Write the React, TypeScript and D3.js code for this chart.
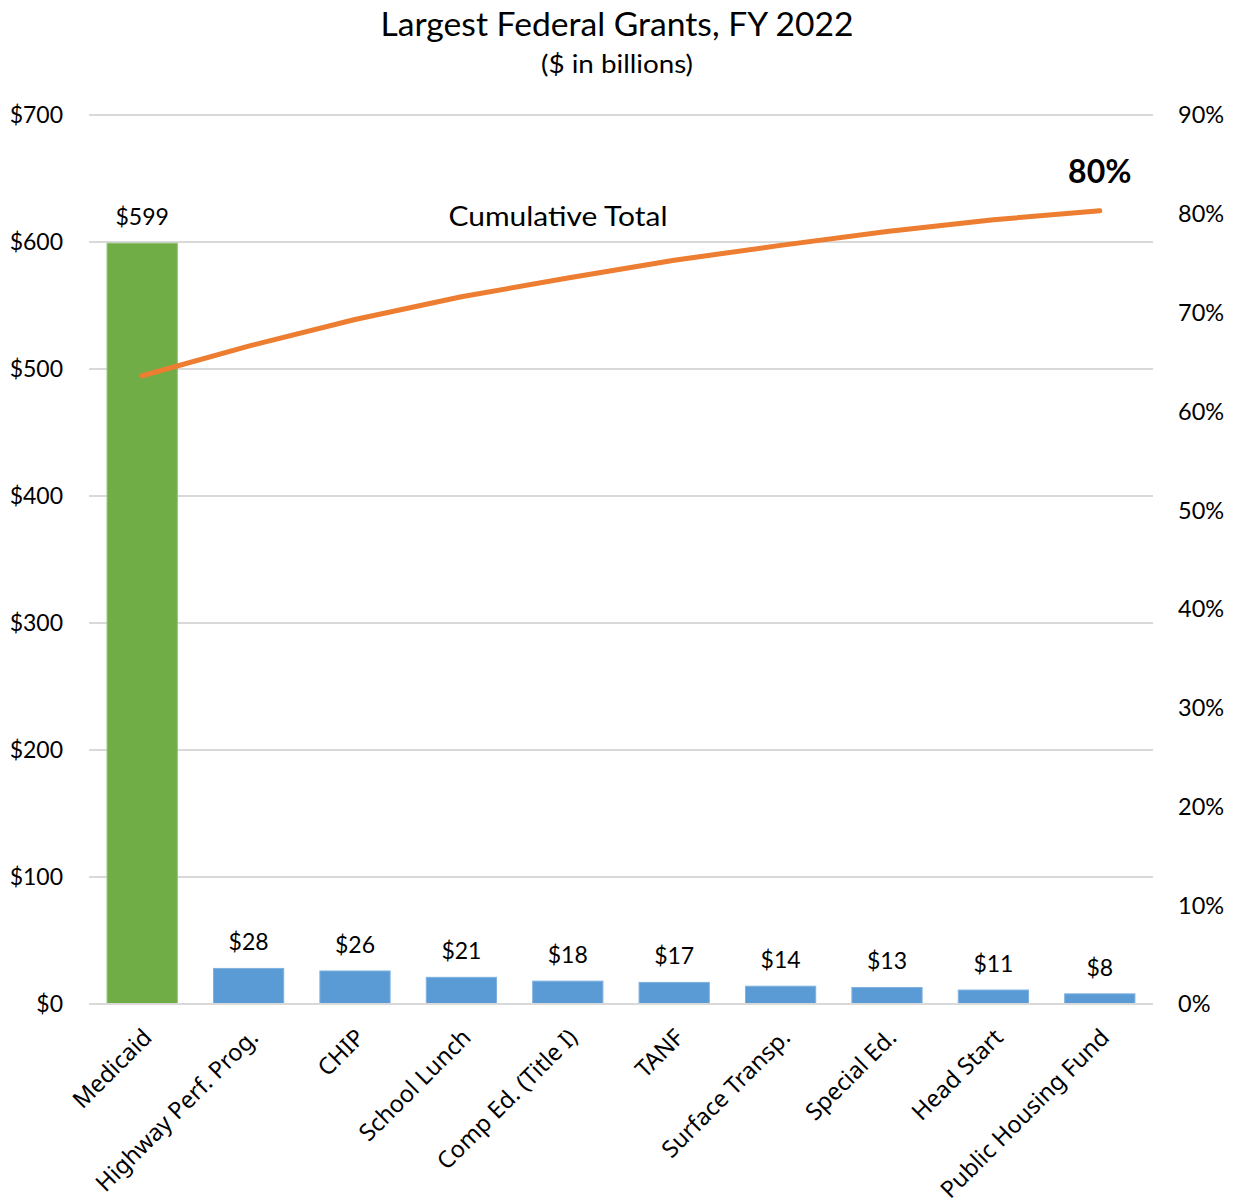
import React from "react";
import * as d3 from "d3";

const categories = [
  "Medicaid",
  "Highway Perf. Prog.",
  "CHIP",
  "School Lunch",
  "Comp Ed. (Title I)",
  "TANF",
  "Surface Transp.",
  "Special Ed.",
  "Head Start",
  "Public Housing Fund",
];
const grantValues = [599, 28, 26, 21, 18, 17, 14, 13, 11, 8];
const cumulativePct = [63.6, 66.6, 69.3, 71.6, 73.5, 75.3, 76.8, 78.2, 79.4, 80.3];
const leftTicks = [0, 100, 200, 300, 400, 500, 600, 700];
const rightTicks = [0, 10, 20, 30, 40, 50, 60, 70, 80, 90];

const W = 1238;
const H = 1203;
const M = { left: 89, right: 85, top: 115, bottom: 199 };
const CAL = "Lato, 'Open Sans', sans-serif";
const SEG = "'Noto Sans', 'Open Sans', sans-serif";

export default function App() {
  const x = d3
    .scaleBand<string>()
    .domain(categories)
    .range([M.left, W - M.right])
    .paddingInner(0.34)
    .paddingOuter(0.17);
  const y = d3.scaleLinear().domain([0, 700]).range([H - M.bottom, M.top]);
  const y2 = d3.scaleLinear().domain([0, 90]).range([H - M.bottom, M.top]);
  const cx = (c: string) => (x(c) as number) + x.bandwidth() / 2;

  const line = d3
    .line<number>()
    .x((_, i) => cx(categories[i]))
    .y((d) => y2(d));

  const lastIdx = categories.length - 1;

  return (
    <svg
      width={W}
      height={H}
      style={{ position: "absolute", left: 0, top: 0, display: "block", background: "#fff" }}
    >
      <rect width={W} height={H} fill="#fff" />
      <text
        x={617}
        y={36}
        textAnchor="middle"
        fontFamily={CAL}
        fontSize={32}
        textLength={473}
        lengthAdjust="spacingAndGlyphs"
        fill="#000"
      >
        Largest Federal Grants, FY 2022
      </text>
      <text
        x={617}
        y={73}
        textAnchor="middle"
        fontFamily={CAL}
        fontSize={25}
        textLength={152}
        lengthAdjust="spacingAndGlyphs"
        fill="#000"
      >
        ($ in billions)
      </text>

      {leftTicks.map((t) => (
        <g key={"g" + t}>
          <line
            x1={M.left}
            x2={W - M.right}
            y1={y(t)}
            y2={y(t)}
            stroke="#d9d9d9"
            strokeWidth={2}
          />
          <text
            x={63}
            y={y(t)}
            dy="0.36em"
            textAnchor="end"
            fontFamily={CAL}
            fontSize={23}
            fill="#000"
          >
            {"$" + t}
          </text>
        </g>
      ))}
      {rightTicks.map((t) => (
        <text
          key={"r" + t}
          x={1178}
          y={y2(t)}
          dy="0.36em"
          textAnchor="start"
          fontFamily={CAL}
          fontSize={23.5}
          fill="#000"
        >
          {t + "%"}
        </text>
      ))}

      {categories.map((c, i) => (
        <rect
          key={"b" + c}
          x={x(c)}
          y={y(grantValues[i])}
          width={x.bandwidth()}
          height={y(0) - y(grantValues[i])}
          fill={i === 0 ? "#70ad47" : "#5b9bd5"}
          stroke={i === 0 ? "#8cc06a" : "#7fb1df"}
          strokeWidth={1}
        />
      ))}
      <line
        x1={M.left}
        x2={W - M.right}
        y1={y(0)}
        y2={y(0)}
        stroke="#d9d9d9"
        strokeWidth={2}
      />

      {categories.map((c, i) => (
        <text
          key={"v" + c}
          x={cx(c)}
          y={y(grantValues[i]) - 18}
          textAnchor="middle"
          fontFamily={CAL}
          fontSize={23}
          fill="#000"
        >
          {"$" + grantValues[i]}
        </text>
      ))}

      {categories.map((c) => (
        <text
          key={"c" + c}
          transform={`translate(${cx(c) + 11},${y(0) + 35}) rotate(-45)`}
          textAnchor="end"
          fontFamily={SEG}
          fontSize={23.5}
          fill="#000"
        >
          {c}
        </text>
      ))}

      <path
        d={line(cumulativePct) || ""}
        fill="none"
        stroke="#ed7d31"
        strokeWidth={5}
        strokeLinecap="round"
        strokeLinejoin="round"
      />

      <text
        x={558}
        y={226}
        textAnchor="middle"
        fontFamily={CAL}
        fontSize={27}
        textLength={219}
        lengthAdjust="spacingAndGlyphs"
        fill="#000"
      >
        Cumulative Total
      </text>
      <text
        x={cx(categories[lastIdx])}
        y={y2(cumulativePct[lastIdx]) - 28}
        textAnchor="middle"
        fontFamily={CAL}
        fontWeight="bold"
        fontSize={32}
        fill="#000"
      >
        {Math.round(cumulativePct[lastIdx]) + "%"}
      </text>
    </svg>
  );
}
